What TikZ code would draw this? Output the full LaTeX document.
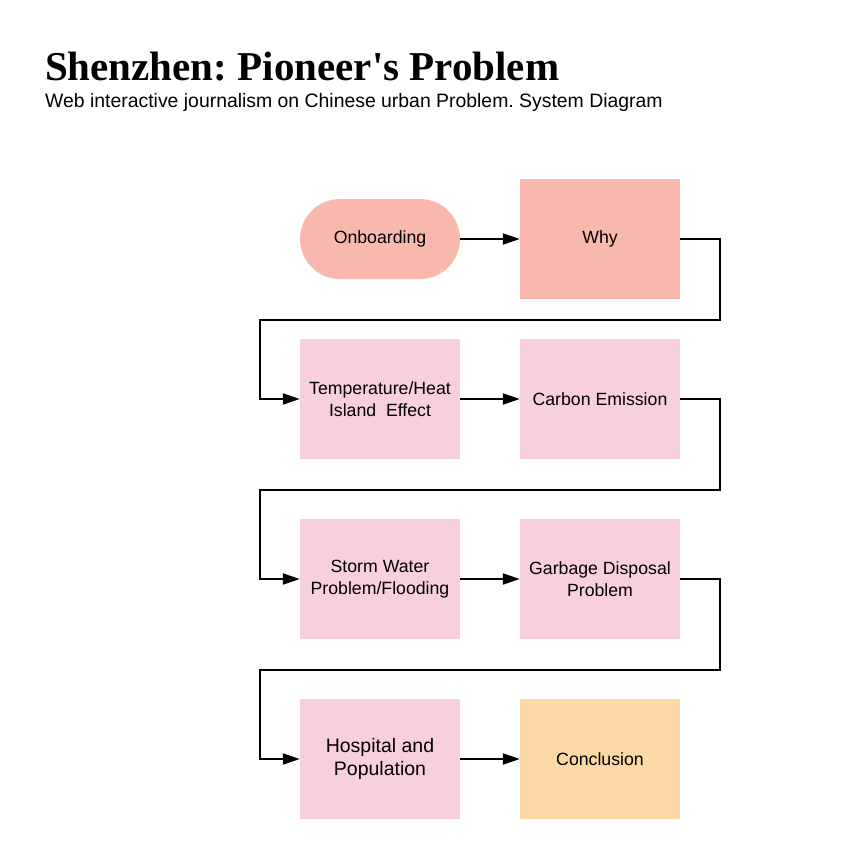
\documentclass[tikz,border=0pt]{standalone}
\usepackage{fontspec}
\setmainfont{Liberation Sans}
\newfontfamily\titlefont{Liberation Serif}
\usetikzlibrary{arrows.meta}
\definecolor{salmon}{HTML}{F9B8AE}
\definecolor{pinkbox}{HTML}{F8D0DB}
\definecolor{peach}{HTML}{FCD8A7}
\frenchspacing
\begin{document}
\begin{tikzpicture}[x=1pt,y=-1pt,
			box/.style={rectangle, fill=pinkbox, minimum width=160pt, minimum height=120pt, inner sep=0pt, align=center, font=\fontsize{17.7}{21.5}\selectfont},
			flow/.style={line width=2pt, -{Triangle[length=17pt,width=11pt]}}
			]
			\useasboundingbox (0,0) rectangle (860,865);
			\node[anchor=base west, inner sep=0pt, font=\titlefont\bfseries\fontsize{41}{44}\selectfont] (title) at (45,80) {Shenzhen: Pioneer's Problem};
			\node[anchor=base west, inner sep=0pt, font=\fontsize{19.4}{22}\selectfont] (sub) at (45,107) {Web interactive journalism on Chinese urban Problem. System Diagram};
			\node[box, fill=salmon, minimum height=80pt, rounded corners=40pt] (onb) at (380,239) {Onboarding};
			\node[box, fill=salmon] (why) at (600,239) {Why};
			\node[box] (temp) at (380,399) {Temperature/Heat\\Island\ \ Effect};
			\node[box] (carbon) at (600,399) {Carbon Emission};
			\node[box] (storm) at (380,579) {Storm Water\\Problem/Flooding};
			\node[box] (garb) at (600,579) {Garbage Disposal\\Problem};
			\node[box, font=\fontsize{19.5}{23}\selectfont] (hosp) at (380,759) {Hospital and\\Population};
			\node[box, fill=peach] (concl) at (600,759) {Conclusion};
			% turns of the returning lines
			\coordinate (r1) at (720,320); \coordinate (l1) at (260,320);
			\coordinate (r2) at (720,490); \coordinate (l2) at (260,490);
			\coordinate (r3) at (720,670); \coordinate (l3) at (260,670);
			\draw[flow] (onb) -- (why);
			\draw[flow] (why.east) -| (r1) -- (l1) |- (temp.west);
			\draw[flow] (temp) -- (carbon);
			\draw[flow] (carbon.east) -| (r2) -- (l2) |- (storm.west);
			\draw[flow] (storm) -- (garb);
			\draw[flow] (garb.east) -| (r3) -- (l3) |- (hosp.west);
			\draw[flow] (hosp) -- (concl);
			\end{tikzpicture}
\end{document}
